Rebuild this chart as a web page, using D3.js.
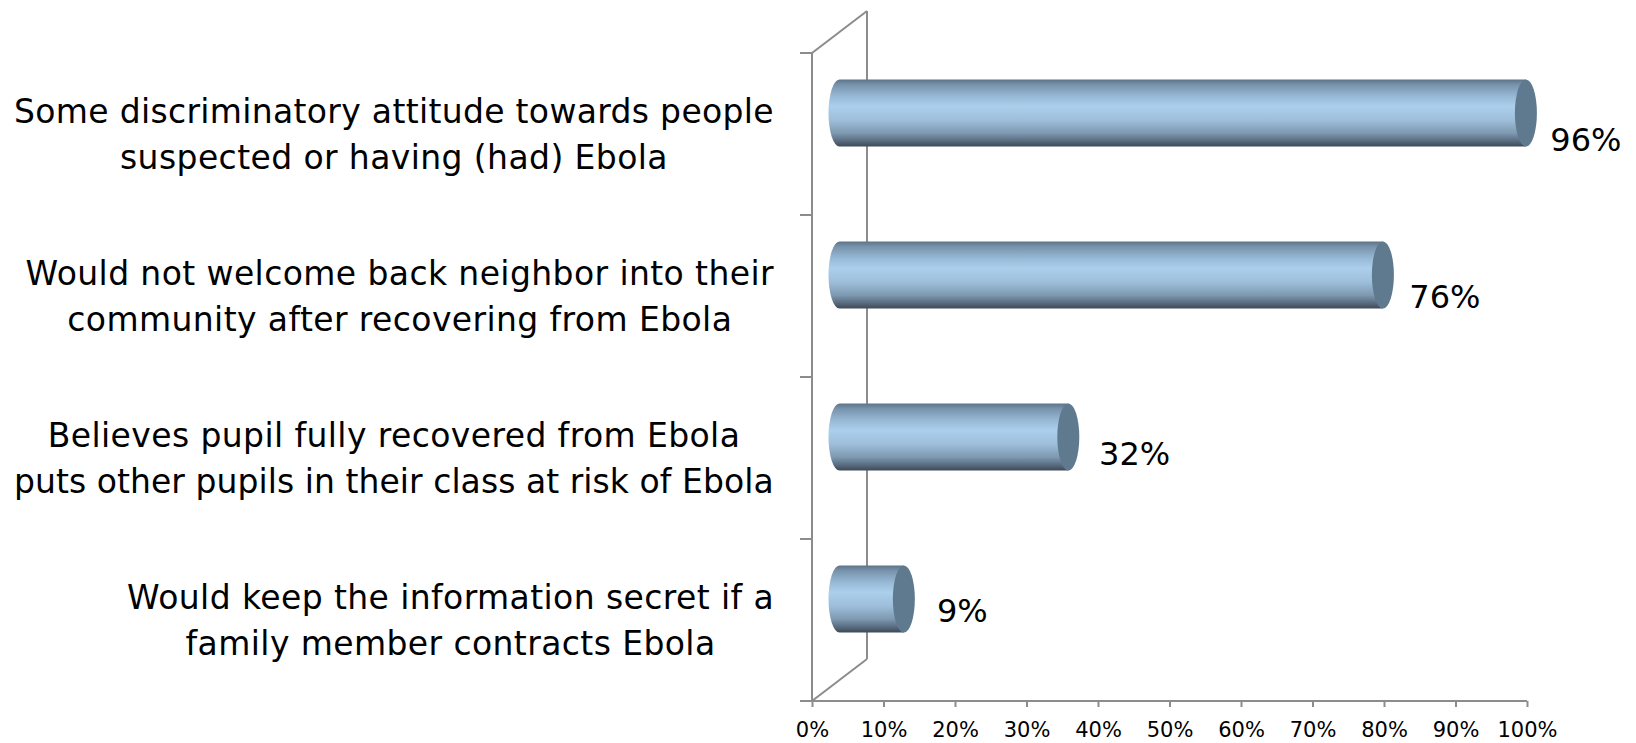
<!DOCTYPE html>
<html>
<head>
<meta charset="utf-8">
<script src="https://cdn.jsdelivr.net/npm/d3@7"></script>
<style>
  html, body { margin: 0; padding: 0; background: #ffffff; }
  svg { display: block; }
  text { font-family: "DejaVu Sans", sans-serif; fill: #000; }
</style>
</head>
<body>
<svg id="chart" width="1636" height="743"></svg>
<script>
// Survey items (each label split into its two display lines)
const categories = [
  ["Some discriminatory attitude towards people", "suspected or having (had) Ebola"],
  ["Would not welcome back neighbor into their", "community after recovering from Ebola"],
  ["Believes pupil fully recovered from Ebola", "puts other pupils in their class at risk of Ebola"],
  ["Would keep the information secret if a", "family member contracts Ebola"]
];
const values = [0.96, 0.76, 0.32, 0.09];
const valueLabels = ["96%", "76%", "32%", "9%"];
const tickValues = [0, 0.1, 0.2, 0.3, 0.4, 0.5, 0.6, 0.7, 0.8, 0.9, 1.0];
const tickLabels = ["0%", "10%", "20%", "30%", "40%", "50%", "60%", "70%", "80%", "90%", "100%"];

const svg = d3.select("#chart");

// Front plane of the plot and the 3D depth offset of the back wall
const plot = { left: 812, right: 1527, top: 53, bottom: 701 };
const depth = { dx: 55, dy: -42 };
const axisColor = "#8c8c8c";

const x = d3.scaleLinear().domain([0, 1]).range([plot.left, plot.right]);
const y = d3.scaleBand().domain(d3.range(categories.length)).range([plot.top, plot.bottom]).padding(0);

// ---- gradient for the cylinder bodies
const defs = svg.append("defs");
const grad = defs.append("linearGradient")
  .attr("id", "cyl").attr("x1", 0).attr("y1", 0).attr("x2", 0).attr("y2", 1);
[
  [0.00, "#5c7489"],
  [0.08, "#7893ac"],
  [0.25, "#97b9d6"],
  [0.40, "#abcfec"],
  [0.60, "#9ebfdb"],
  [0.80, "#7e99b1"],
  [0.92, "#586b7e"],
  [1.00, "#3d4956"]
].forEach(([o, c]) => grad.append("stop").attr("offset", o).attr("stop-color", c));

// ---- walls / axes
const g = svg.append("g");
g.append("line") // back wall vertical edge
  .attr("x1", plot.left + depth.dx).attr("y1", plot.top + depth.dy)
  .attr("x2", plot.left + depth.dx).attr("y2", plot.bottom + depth.dy)
  .attr("stroke", axisColor).attr("stroke-width", 2);
g.append("line") // top diagonal
  .attr("x1", plot.left).attr("y1", plot.top)
  .attr("x2", plot.left + depth.dx).attr("y2", plot.top + depth.dy)
  .attr("stroke", axisColor).attr("stroke-width", 2);
g.append("line") // bottom diagonal
  .attr("x1", plot.left).attr("y1", plot.bottom)
  .attr("x2", plot.left + depth.dx).attr("y2", plot.bottom + depth.dy)
  .attr("stroke", axisColor).attr("stroke-width", 2);

// Category axis (front vertical) with outer ticks at band boundaries
g.append("line")
  .attr("x1", plot.left).attr("y1", plot.top)
  .attr("x2", plot.left).attr("y2", plot.bottom)
  .attr("stroke", axisColor).attr("stroke-width", 2);
const bounds = d3.range(categories.length + 1).map(i => i < categories.length ? y(i) : plot.bottom);
g.selectAll(".ctick").data(bounds).join("line")
  .attr("x1", plot.left - 12).attr("x2", plot.left)
  .attr("y1", d => d).attr("y2", d => d)
  .attr("stroke", axisColor).attr("stroke-width", 2);

// Value axis along the bottom
const xAxis = d3.axisBottom(x).tickValues(tickValues)
  .tickFormat((d, i) => tickLabels[i]).tickSizeInner(6).tickSizeOuter(0).tickPadding(15);
const ax = svg.append("g").attr("transform", `translate(0,${plot.bottom})`).call(xAxis);
ax.select(".domain").attr("stroke", axisColor).attr("stroke-width", 2)
  .attr("d", `M${plot.left - 12},0H${plot.right}`);
ax.selectAll(".tick line").attr("stroke", axisColor).attr("stroke-width", 2);
ax.selectAll(".tick text")
  .style("font-family", "'DejaVu Sans', sans-serif")
  .attr("font-size", 21).attr("fill", "#000");

// ---- cylinders (sitting at mid depth)
const barH = 67;
const rx = 11;
const mid = { dx: depth.dx / 2, dy: depth.dy / 2 };
const bars = svg.append("g");
values.forEach((v, i) => {
  const cy = y(i) + y.bandwidth() / 2 + mid.dy;
  const x0 = x(0) + mid.dx;
  const x1 = x(v) + mid.dx;
  const top = cy - barH / 2, bot = cy + barH / 2;
  bars.append("path")
    .attr("d", `M${x0},${top}L${x1},${top}L${x1},${bot}L${x0},${bot}A${rx},${barH / 2} 0 0 1 ${x0},${top}Z`)
    .attr("fill", "url(#cyl)");
  bars.append("ellipse")
    .attr("cx", x1).attr("cy", cy).attr("rx", rx).attr("ry", barH / 2)
    .attr("fill", "#5f7a8f");
});

// ---- value labels
svg.append("g").selectAll("text").data(values).join("text")
  .attr("x", (v, i) => x(v) + mid.dx + 34 - v * 10)
  .attr("y", (v, i) => y(i) + y.bandwidth() / 2 + 6 - 5 * i)
  .attr("dy", "0.35em")
  .attr("font-size", 32)
  .text((v, i) => valueLabels[i]);

// ---- category labels: each block right-aligned, lines centred within it
const labelRight = 774;
const labelMaxWidth = 760;
const lineGap = 46;
categories.forEach((lines, i) => {
  const cy = y(i) + y.bandwidth() / 2;
  const t = svg.append("text").attr("font-size", 33)
    .attr("letter-spacing", 0.4).attr("text-anchor", "middle");
  lines.forEach((ln, k) => {
    t.append("tspan").attr("x", 0)
      .attr("y", cy + (k - (lines.length - 1) / 2) * lineGap)
      .attr("dy", "0.35em").text(ln);
  });
  // keep very long lines inside the left margin
  t.selectAll("tspan").each(function () {
    if (this.getComputedTextLength() > labelMaxWidth) {
      d3.select(this).attr("textLength", labelMaxWidth).attr("lengthAdjust", "spacing");
    }
  });
  const w = Math.min(labelMaxWidth, d3.max(t.selectAll("tspan").nodes(), n => n.getComputedTextLength()));
  t.selectAll("tspan").attr("x", labelRight - w / 2);
});
</script>
</body>
</html>
